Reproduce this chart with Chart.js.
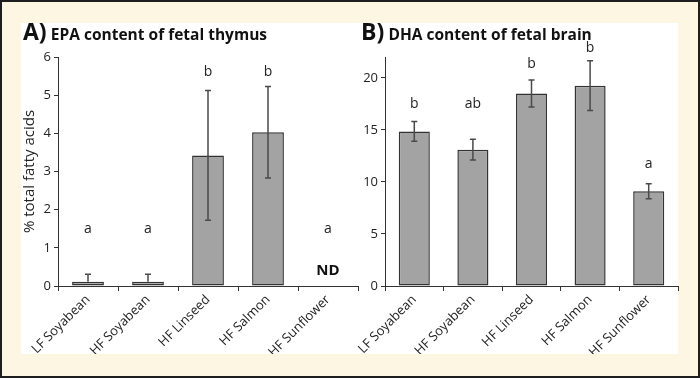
<!DOCTYPE html>
<html>
<head>
<meta charset="utf-8">
<script src="https://cdn.jsdelivr.net/npm/chart.js@4"></script>
<style>
  html, body { margin:0; padding:0; }
  body { width:700px; height:378px; overflow:hidden; font-family:"Open Sans", sans-serif; }
  #frame { position:absolute; left:0; top:0; width:700px; height:378px; box-sizing:border-box; border:2px solid #1e1e1e; background:#fdf6e2; }
  #panel { position:absolute; left:21px; top:23px; width:657px; height:331px; background:#ffffff; }
  canvas { position:absolute; top:0; }
  #cA { left:0; }
  #cB { left:340px; }
  .title { position:absolute; top:16px; font-weight:bold; color:#111; white-space:nowrap; line-height:30px; }
  .title .big { font-size:23px; }
  .title .small { font-size:15.5px; }
</style>
</head>
<body>
<div id="frame"></div>
<div id="panel"></div>
<canvas id="cA" width="365" height="378"></canvas>
<canvas id="cB" width="360" height="378"></canvas>
<div class="title" style="left:23px;"><span class="big">A)</span> <span class="small">EPA content of fetal thymus</span></div>
<div class="title" style="left:361px;"><span class="big">B)</span> <span class="small">DHA content of fetal brain</span></div>
<script>
const categories = ["LF Soyabean", "HF Soyabean", "HF Linseed", "HF Salmon", "HF Sunflower"];

const epaValues = [0.11, 0.11, 3.42, 4.03, null];
const epaErrors = [0.2, 0.2, 1.7, 1.2, null];
const epaLetters = ["a", "a", "b", "b", "a"];
const epaLetterAt = [1.5, 1.5, 5.6, 5.6, 1.5];
const epaNotDetected = ["", "", "", "", "ND"];
const epaTicks = [0, 1, 2, 3, 4, 5, 6];

const dhaValues = [14.85, 13.1, 18.5, 19.25, 9.1];
const dhaErrors = [0.95, 1.0, 1.3, 2.4, 0.72];
const dhaLetters = ["b", "ab", "b", "b", "a"];
const dhaLetterAt = [17.5, 17.5, 21.3, 22.9, 11.7];
const dhaTicks = [0, 5, 10, 15, 20];

const FONT = "'Open Sans', sans-serif";
const INK = "#222222";

function annotations(values, errors, letters, letterAt, nd) {
  return {
    id: 'annot',
    afterDatasetsDraw(chart) {
      const ctx = chart.ctx;
      const xs = chart.scales.x, ys = chart.scales.y;
      ctx.save();
      ctx.strokeStyle = "#4a4a4a";
      ctx.lineWidth = 1.5;
      values.forEach((v, i) => {
        if (v === null || errors[i] === null) return;
        const x = xs.getPixelForValue(i);
        const hi = ys.getPixelForValue(v + errors[i]);
        const loVal = v - errors[i];
        const lo = ys.getPixelForValue(loVal >= 0 ? loVal : v);
        ctx.beginPath();
        ctx.moveTo(x, lo); ctx.lineTo(x, hi);
        ctx.moveTo(x - 3, hi); ctx.lineTo(x + 3, hi);
        if (loVal >= 0) { ctx.moveTo(x - 3, lo); ctx.lineTo(x + 3, lo); }
        ctx.stroke();
      });
      ctx.fillStyle = INK;
      ctx.textAlign = 'center';
      ctx.textBaseline = 'middle';
      ctx.font = "14px " + FONT;
      letters.forEach((t, i) => {
        ctx.fillText(t, xs.getPixelForValue(i), ys.getPixelForValue(letterAt[i]));
      });
      if (nd) {
        ctx.font = "bold 15px " + FONT;
        ctx.fillStyle = "#111";
        nd.forEach((t, i) => {
          if (t) ctx.fillText(t, xs.getPixelForValue(i), ys.getPixelForValue(0.4));
        });
      }
      ctx.restore();
    }
  };
}

function makeChart(id, values, ticks, yMax, step, padding, yWidth, yTitle, plugin) {
  return new Chart(document.getElementById(id), {
    type: 'bar',
    data: {
      labels: categories,
      datasets: [{
        data: values,
        backgroundColor: '#a3a3a3',
        borderColor: '#333333',
        borderWidth: 1.5,
        borderSkipped: false,
        categoryPercentage: 1.0,
        barPercentage: 0.53
      }]
    },
    options: {
      responsive: false,
      animation: false,
      layout: { padding: padding },
      plugins: { legend: { display: false }, tooltip: { enabled: false } },
      scales: {
        x: {
          grid: { offset: true, drawOnChartArea: false, drawTicks: true, tickLength: 5, color: '#333', lineWidth: 1 },
          border: { display: true, color: '#333', width: 1 },
          ticks: { minRotation: 45, maxRotation: 45, padding: 1, color: INK, font: { family: FONT, size: 13 } },
          afterFit(s) { s.height = 68; }
        },
        y: {
          min: 0, max: yMax,
          grid: { drawOnChartArea: false, drawTicks: true, tickLength: 4, color: '#333', lineWidth: 1 },
          border: { display: true, color: '#333', width: 1 },
          ticks: {
            stepSize: step, includeBounds: false, padding: 3, color: INK,
            font: { family: FONT, size: 13 },
            callback: (v) => ticks.includes(v) ? String(v) : ''
          },
          title: yTitle ? { display: true, text: yTitle, color: INK, font: { family: FONT, size: 15 }, padding: { top: 0, bottom: 0 } } : { display: false },
          afterFit(s) { s.width = yWidth; }
        }
      }
    },
    plugins: [plugin]
  });
}

makeChart('cA', epaValues, epaTicks, 6, 1,
  { left: 21, right: 7, top: 57, bottom: 24 }, 37, '% total fatty acids',
  annotations(epaValues, epaErrors, epaLetters, epaLetterAt, epaNotDetected));

makeChart('cB', dhaValues, dhaTicks, 22, 5,
  { left: 0, right: 22, top: 57, bottom: 24 }, 45, null,
  annotations(dhaValues, dhaErrors, dhaLetters, dhaLetterAt, null));
</script>
</body>
</html>
